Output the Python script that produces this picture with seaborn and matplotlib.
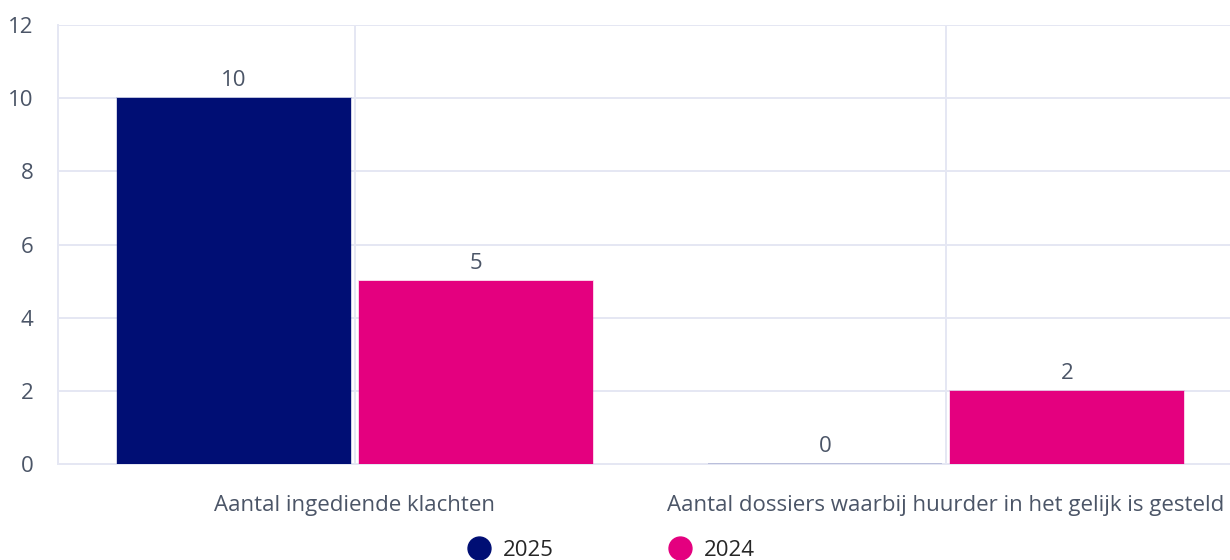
#!/usr/bin/python3

import pandas as pd
import seaborn as sns
from matplotlib import pyplot as plt
from matplotlib.colors import to_rgba
from matplotlib.lines import Line2D

categories = ['Aantal ingediende klachten',
              'Aantal dossiers waarbij huurder in het gelijk is gesteld']
years = ['2025', '2024']
values_2025 = [10, 0]
values_2024 = [5, 2]

colors = {'2025': '#000e74', '2024': '#e4007f'}
grid_color = '#e5e7f3'
text_color = '#4b5567'

df = pd.DataFrame({
    'categorie': categories * 2,
    'jaar': [years[0]] * len(categories) + [years[1]] * len(categories),
    'aantal': values_2025 + values_2024,
})

sns.set_style('white')
plt.rcParams['font.family'] = ['Open Sans', 'DejaVu Sans']

fig = plt.figure(figsize=(12.3, 5.6), dpi=100)
ax = fig.add_axes([58 / 1230, 1 - 464 / 560, 1 - 58 / 1230, (464 - 25) / 560])

sns.barplot(data=df, x='categorie', y='aantal', hue='jaar', hue_order=years,
            palette=colors, saturation=1, width=0.82, gap=0.033, ax=ax,
            legend=False, linewidth=1.2, zorder=3)

# faint outline so the zero-height bar still shows as a thin line
for year, c in zip(years, ax.containers):
    for p in c:
        p.set_edgecolor(to_rgba(colors[year], 0.22))
    ax.bar_label(c, fmt='%d', padding=5, fontsize=16, color=text_color)

ax.set_ylim(0, 12)
ax.set_xlim(-0.5025, 1.4805)
ax.set_yticks(range(0, 13, 2))
ax.set_xlabel('')
ax.set_ylabel('')

ax.grid(True, color=grid_color, linewidth=1.4, zorder=0)
ax.set_axisbelow(True)
for side in ['top', 'right']:
    ax.spines[side].set_visible(False)
for side in ['left', 'bottom']:
    ax.spines[side].set_color(grid_color)
    ax.spines[side].set_linewidth(1.4)

ax.tick_params(axis='y', length=8.6, width=1.4, color=grid_color, pad=9,
               labelsize=16, labelcolor=text_color)
ax.tick_params(axis='x', length=4.3, width=1.4, color=grid_color, pad=18,
               labelsize=16, labelcolor=text_color)

handles = [Line2D([], [], marker='o', linestyle='', markersize=16.5,
                  markerfacecolor=colors[y], markeredgecolor=colors[y])
           for y in years]
fig.legend(handles, years, loc='center', bbox_to_anchor=(0.496, 0.017), ncol=2,
           frameon=False, fontsize=16, handletextpad=0.47, columnspacing=5.1,
           handlelength=1.2)

fig.savefig('out.png', dpi=100)
plt.close(fig)
